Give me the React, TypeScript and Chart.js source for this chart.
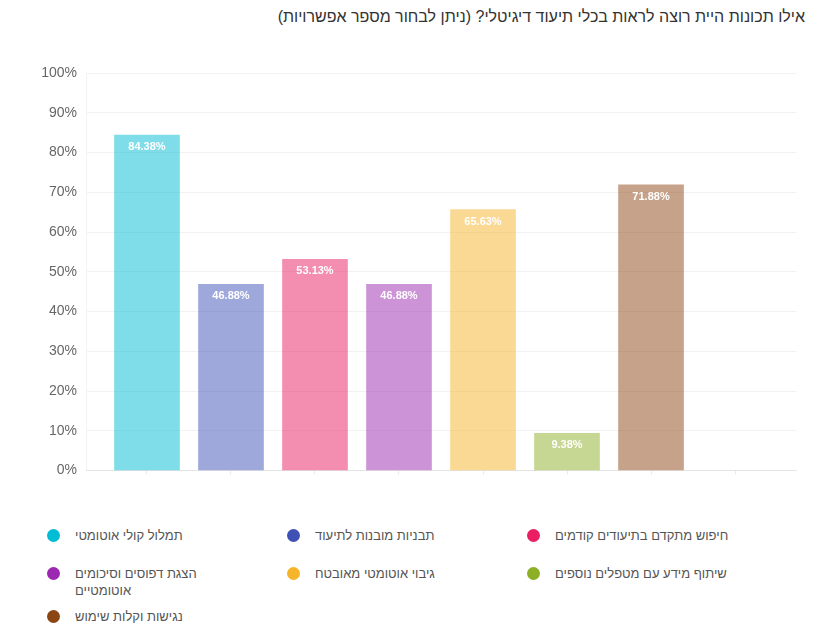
import React, { useEffect, useRef } from 'react';
import { Chart, registerables } from 'chart.js';

Chart.register(...registerables);

const titleText = 'אילו תכונות היית רוצה לראות בכלי תיעוד דיגיטלי? (ניתן לבחור מספר אפשרויות)';

const categories = [
  'תמלול קולי אוטומטי',
  'תבניות מובנות לתיעוד',
  'חיפוש מתקדם בתיעודים קודמים',
  'הצגת דפוסים וסיכומים אוטומטיים',
  'גיבוי אוטומטי מאובטח',
  'שיתוף מידע עם מטפלים נוספים',
  'נגישות וקלות שימוש',
];

const values = [84.38, 46.88, 53.13, 46.88, 65.63, 9.38, 71.88];

const colors = ['#00BCD4', '#3F51B5', '#E91E63', '#9C27B0', '#F6B42A', '#8CAF26', '#8B4513'];

const FONT = "Arial, 'Liberation Sans', sans-serif";

function withAlpha(hex: string, a: number) {
  const n = parseInt(hex.slice(1), 16);
  return `rgba(${(n >> 16) & 255}, ${(n >> 8) & 255}, ${n & 255}, ${a})`;
}

const valueLabels = {
  id: 'valueLabels',
  afterDatasetsDraw(chart: any) {
    const ctx = chart.ctx;
    const meta = chart.getDatasetMeta(0);
    ctx.save();
    ctx.font = `bold 11px ${FONT}`;
    ctx.fillStyle = '#ffffff';
    ctx.textAlign = 'center';
    ctx.textBaseline = 'middle';
    meta.data.forEach((bar: any, i: number) => {
      ctx.fillText(values[i].toFixed(2) + '%', bar.x, bar.y + 12);
    });
    ctx.restore();
  },
};

function BarChart() {
  const ref = useRef<HTMLCanvasElement>(null);
  useEffect(() => {
    if (!ref.current) return;
    const chart = new Chart(ref.current, {
      type: 'bar',
      data: {
        datasets: [
          {
            data: values.map((v, i) => ({ x: i, y: v })),
            backgroundColor: colors.map((c) => withAlpha(c, 0.5)),
            borderWidth: 0,
            barThickness: 65,
          } as any,
        ],
      },
      options: {
        responsive: false,
        animation: false,
        layout: { padding: { top: 33, bottom: 7, left: 0, right: 31 } },
        plugins: { legend: { display: false }, tooltip: { enabled: false }, title: { display: false } },
        scales: {
          x: {
            type: 'linear',
            min: -0.726,
            max: 7.726,
            offset: false,
            grid: {
              display: true,
              offset: false,
              drawOnChartArea: false,
              drawTicks: true,
              tickLength: 4,
              color: 'rgba(0,0,0,0.08)',
            },
            border: { display: true, color: 'rgba(0,0,0,0.06)' },
            ticks: { display: false, stepSize: 1, includeBounds: false },
            afterBuildTicks: (s: any) => {
              s.ticks = [...categories.map((_, i) => i), categories.length].map((v) => ({ value: v }));
            },
          },
          y: {
            min: 0,
            max: 100,
            grid: { color: 'rgba(0,0,0,0.05)', drawTicks: false },
            border: { display: true, color: 'rgba(0,0,0,0.05)' },
            ticks: {
              stepSize: 10,
              padding: 9,
              color: '#666',
              font: { size: 14, family: FONT },
              callback: (v: any) => v + '%',
            },
            afterFit: (s: any) => {
              s.width = 86;
            },
          },
        },
      } as any,
      plugins: [valueLabels],
    });
    return () => chart.destroy();
  }, []);
  return (
    <canvas
      ref={ref}
      width={827}
      height={448}
      style={{ position: 'absolute', left: 0, top: 40, width: 827, height: 448 }}
    />
  );
}

const rowCenters = [536, 574, 617];

export default function App() {
  return (
    <div style={{ fontFamily: FONT }}>
      <div
        style={{
          position: 'absolute',
          right: 22,
          top: 8,
          direction: 'rtl',
          fontSize: 16,
          lineHeight: '18px',
          color: '#333',
          whiteSpace: 'nowrap',
        }}
      >
        {titleText}
      </div>
      <BarChart />
      {categories.map((c, i) => {
        const col = i % 3;
        const row = Math.floor(i / 3);
        return (
          <div
            key={i}
            style={{
              position: 'absolute',
              left: 47 + col * 240,
              top: rowCenters[row] - 9,
              display: 'flex',
              alignItems: 'flex-start',
            }}
          >
            <span
              style={{
                display: 'inline-block',
                width: 13,
                height: 13,
                borderRadius: '50%',
                background: colors[i],
                marginTop: 2,
                flex: '0 0 auto',
              }}
            />
            <span
              style={{
                marginLeft: 15,
                width: 177,
                fontSize: 13,
                lineHeight: '17px',
                color: '#555',
              }}
            >
              {c}
            </span>
          </div>
        );
      })}
    </div>
  );
}
